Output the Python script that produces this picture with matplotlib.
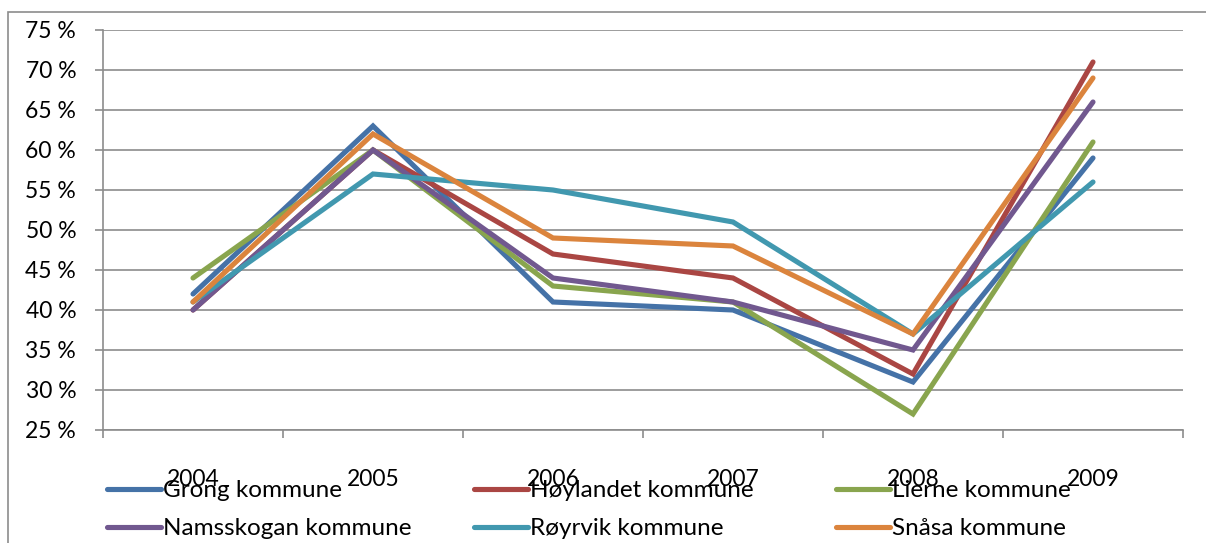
import matplotlib.pyplot as plt
from matplotlib.patches import Rectangle
from matplotlib.ticker import FuncFormatter, FixedLocator

plt.rcParams['font.family'] = ['Lato', 'DejaVu Sans']

years = ['2004', '2005', '2006', '2007', '2008', '2009']
names = ['Grong kommune', 'Høylandet kommune', 'Lierne kommune',
         'Namsskogan kommune', 'Røyrvik kommune', 'Snåsa kommune']
grong = [42, 63, 41, 40, 31, 59]
hoylandet = [40, 60, 47, 44, 32, 71]
lierne = [44, 60, 43, 41, 27, 61]
namsskogan = [40, 60, 44, 41, 35, 66]
royrvik = [41, 57, 55, 51, 37, 56]
snasa = [41, 62, 49, 48, 37, 69]
series = [grong, hoylandet, lierne, namsskogan, royrvik, snasa]
colors = ['#4572A7', '#AA4643', '#89A54E', '#71588F', '#4198AF', '#DB843D']

W, H = 1206, 543
fig = plt.figure(figsize=(W / 100, H / 100), dpi=100)
ax = fig.add_axes([103 / W, 1 - 430 / H, 1080 / W, 400 / H])

# ytre ramme
fig.patches.append(Rectangle((8 / W, -0.1), 1.2, 1 - 12 / H + 0.1, transform=fig.transFigure,
                             fill=False, ec='#8c8c8c', lw=1.2))

x = list(range(len(years)))
lines = []
for vals, name, c in zip(series, names, colors):
    ln, = ax.plot(x, vals, color=c, lw=3.7, label=name,
                  solid_capstyle='round', solid_joinstyle='miter')
    lines.append(ln)

ax.set_xlim(-0.5, 5.5)
ax.set_ylim(25, 75)
ax.set_yticks(range(25, 80, 5))
ax.yaxis.set_major_formatter(FuncFormatter(lambda v, p: f'{v:.0f} %'))
ax.grid(axis='y', color='#8c8c8c', lw=1.2)
ax.set_axisbelow(True)

ax.xaxis.set_major_locator(FixedLocator([i - 0.5 for i in range(7)]))
ax.xaxis.set_major_formatter(FuncFormatter(lambda v, p: ''))
ax.xaxis.set_minor_locator(FixedLocator(x))
ax.set_xticklabels(years, minor=True)
ax.tick_params(axis='x', which='major', length=5.8, color='#8c8c8c', width=1.2)
ax.tick_params(axis='x', which='minor', length=0, pad=28, labelsize=16.5)
ax.tick_params(axis='y', length=5.8, color='#8c8c8c', width=1.2, labelsize=16.5, pad=13.5)

for s in ['top', 'right']:
    ax.spines[s].set_visible(False)
for s in ['left', 'bottom']:
    ax.spines[s].set_color('#8c8c8c')
    ax.spines[s].set_linewidth(1.2)

# legenden: tre kolonner, fylt radvis
col_x = [95, 462, 824]
for k in range(3):
    leg = fig.legend([lines[k], lines[k + 3]], [names[k], names[k + 3]],
                     loc='upper left', bbox_to_anchor=(col_x[k] / W, 1 - 468 / H),
                     frameon=False, fontsize=17.5, handlelength=2.2, handletextpad=0.1,
                     labelspacing=0.7, borderpad=0)

fig.savefig('out.png', dpi=100)
